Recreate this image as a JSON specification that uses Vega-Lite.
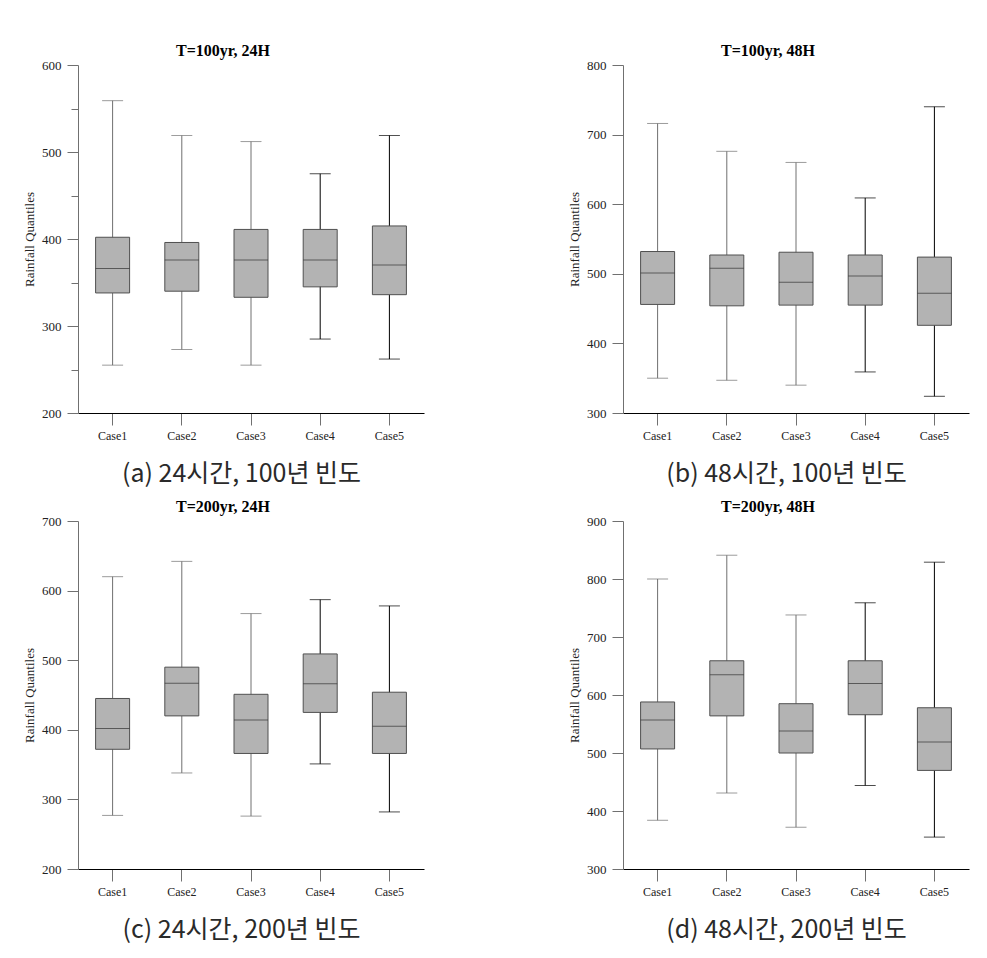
{
  "$schema": "https://vega.github.io/schema/vega-lite/v6.json",
  "background": "white",
  "padding": {"left": 23, "top": 43, "right": 5, "bottom": 5},
  "datasets": {
    "box": [
      {"panel": "a", "case": "Case1", "min": 255, "q1": 338, "median": 366, "q3": 402, "max": 559},
      {"panel": "a", "case": "Case2", "min": 273, "q1": 340, "median": 376, "q3": 396, "max": 519},
      {"panel": "a", "case": "Case3", "min": 255, "q1": 333, "median": 376, "q3": 411, "max": 512},
      {"panel": "a", "case": "Case4", "min": 285, "q1": 345, "median": 376, "q3": 411, "max": 475},
      {"panel": "a", "case": "Case5", "min": 262, "q1": 336, "median": 370, "q3": 415, "max": 519},
      {"panel": "b", "case": "Case1", "min": 350, "q1": 456, "median": 501, "q3": 532, "max": 716},
      {"panel": "b", "case": "Case2", "min": 347, "q1": 454, "median": 508, "q3": 527, "max": 676},
      {"panel": "b", "case": "Case3", "min": 340, "q1": 455, "median": 488, "q3": 531, "max": 660},
      {"panel": "b", "case": "Case4", "min": 359, "q1": 455, "median": 497, "q3": 527, "max": 609},
      {"panel": "b", "case": "Case5", "min": 324, "q1": 426, "median": 472, "q3": 524, "max": 740},
      {"panel": "c", "case": "Case1", "min": 277, "q1": 372, "median": 402, "q3": 445, "max": 620},
      {"panel": "c", "case": "Case2", "min": 338, "q1": 420, "median": 467, "q3": 490, "max": 642},
      {"panel": "c", "case": "Case3", "min": 276, "q1": 366, "median": 414, "q3": 451, "max": 567},
      {"panel": "c", "case": "Case4", "min": 351, "q1": 425, "median": 466, "q3": 509, "max": 587},
      {"panel": "c", "case": "Case5", "min": 282, "q1": 366, "median": 405, "q3": 454, "max": 578},
      {"panel": "d", "case": "Case1", "min": 384, "q1": 507, "median": 557, "q3": 588, "max": 800},
      {"panel": "d", "case": "Case2", "min": 431, "q1": 564, "median": 635, "q3": 659, "max": 841},
      {"panel": "d", "case": "Case3", "min": 372, "q1": 500, "median": 538, "q3": 585, "max": 738},
      {"panel": "d", "case": "Case4", "min": 444, "q1": 566, "median": 620, "q3": 659, "max": 759},
      {"panel": "d", "case": "Case5", "min": 355, "q1": 470, "median": 519, "q3": 578, "max": 829}
    ]
  },
  "data": {"name": "box"},
  "columns": 2,
  "bounds": "flush",
  "spacing": {"row": 108, "column": 199},
  "concat": [
    {
      "width": 346, "height": 348,
      "title": {"text": "T=100yr, 24H"},
      "transform": [{"filter": "datum.panel === 'a'"}],
      "encoding": {"x": {"field": "case", "type": "nominal", "axis": {"title": "(a) 24시간, 100년 빈도"}}},
      "layer": [
        {"mark": {"type": "rule", "strokeWidth": 1},
         "encoding": {"y": {"field": "min", "type": "quantitative", "title": "Rainfall Quantiles", "scale": {"domain": [200, 600], "nice": false}, "axis": {"title": "Rainfall Quantiles", "values": [200, 250, 300, 350, 400, 450, 500, 550, 600]}},
                      "y2": {"field": "max"},
                      "color": {"field": "case", "type": "nominal", "scale": {"domain": ["Case1", "Case2", "Case3", "Case4", "Case5"], "range": ["#707070", "#707070", "#707070", "#000000", "#000000"]}, "legend": null}}},
        {"mark": {"type": "tick", "size": 21, "thickness": 1},
         "encoding": {"y": {"field": "min", "type": "quantitative", "title": "Rainfall Quantiles", "scale": {"domain": [200, 600], "nice": false}},
                      "color": {"field": "case", "type": "nominal", "scale": {"domain": ["Case1", "Case2", "Case3", "Case4", "Case5"], "range": ["#707070", "#707070", "#707070", "#000000", "#000000"]}, "legend": null}}},
        {"mark": {"type": "tick", "size": 21, "thickness": 1},
         "encoding": {"y": {"field": "max", "type": "quantitative", "title": "Rainfall Quantiles", "scale": {"domain": [200, 600], "nice": false}},
                      "color": {"field": "case", "type": "nominal", "scale": {"domain": ["Case1", "Case2", "Case3", "Case4", "Case5"], "range": ["#707070", "#707070", "#707070", "#000000", "#000000"]}, "legend": null}}},
        {"mark": {"type": "bar", "size": 34, "fill": "#b3b3b3", "stroke": "#505050", "strokeWidth": 1},
         "encoding": {"y": {"field": "q1", "type": "quantitative", "title": "Rainfall Quantiles", "scale": {"domain": [200, 600], "nice": false}}, "y2": {"field": "q3"}}},
        {"mark": {"type": "tick", "size": 34, "thickness": 1, "color": "#333333"},
         "encoding": {"y": {"field": "median", "type": "quantitative", "title": "Rainfall Quantiles", "scale": {"domain": [200, 600], "nice": false}}}}
      ]
    },
    {
      "width": 346, "height": 348,
      "title": {"text": "T=100yr, 48H"},
      "transform": [{"filter": "datum.panel === 'b'"}],
      "encoding": {"x": {"field": "case", "type": "nominal", "axis": {"title": "(b) 48시간, 100년 빈도"}}},
      "layer": [
        {"mark": {"type": "rule", "strokeWidth": 1},
         "encoding": {"y": {"field": "min", "type": "quantitative", "title": "Rainfall Quantiles", "scale": {"domain": [300, 800], "nice": false}, "axis": {"title": "Rainfall Quantiles", "values": [300, 350, 400, 450, 500, 550, 600, 650, 700, 750, 800]}},
                      "y2": {"field": "max"},
                      "color": {"field": "case", "type": "nominal", "scale": {"domain": ["Case1", "Case2", "Case3", "Case4", "Case5"], "range": ["#707070", "#707070", "#707070", "#000000", "#000000"]}, "legend": null}}},
        {"mark": {"type": "tick", "size": 21, "thickness": 1},
         "encoding": {"y": {"field": "min", "type": "quantitative", "title": "Rainfall Quantiles", "scale": {"domain": [300, 800], "nice": false}},
                      "color": {"field": "case", "type": "nominal", "scale": {"domain": ["Case1", "Case2", "Case3", "Case4", "Case5"], "range": ["#707070", "#707070", "#707070", "#000000", "#000000"]}, "legend": null}}},
        {"mark": {"type": "tick", "size": 21, "thickness": 1},
         "encoding": {"y": {"field": "max", "type": "quantitative", "title": "Rainfall Quantiles", "scale": {"domain": [300, 800], "nice": false}},
                      "color": {"field": "case", "type": "nominal", "scale": {"domain": ["Case1", "Case2", "Case3", "Case4", "Case5"], "range": ["#707070", "#707070", "#707070", "#000000", "#000000"]}, "legend": null}}},
        {"mark": {"type": "bar", "size": 34, "fill": "#b3b3b3", "stroke": "#505050", "strokeWidth": 1},
         "encoding": {"y": {"field": "q1", "type": "quantitative", "title": "Rainfall Quantiles", "scale": {"domain": [300, 800], "nice": false}}, "y2": {"field": "q3"}}},
        {"mark": {"type": "tick", "size": 34, "thickness": 1, "color": "#333333"},
         "encoding": {"y": {"field": "median", "type": "quantitative", "title": "Rainfall Quantiles", "scale": {"domain": [300, 800], "nice": false}}}}
      ]
    },
    {
      "width": 346, "height": 348,
      "title": {"text": "T=200yr, 24H"},
      "transform": [{"filter": "datum.panel === 'c'"}],
      "encoding": {"x": {"field": "case", "type": "nominal", "axis": {"title": "(c) 24시간, 200년 빈도"}}},
      "layer": [
        {"mark": {"type": "rule", "strokeWidth": 1},
         "encoding": {"y": {"field": "min", "type": "quantitative", "title": "Rainfall Quantiles", "scale": {"domain": [200, 700], "nice": false}, "axis": {"title": "Rainfall Quantiles", "values": [200, 250, 300, 350, 400, 450, 500, 550, 600, 650, 700]}},
                      "y2": {"field": "max"},
                      "color": {"field": "case", "type": "nominal", "scale": {"domain": ["Case1", "Case2", "Case3", "Case4", "Case5"], "range": ["#707070", "#707070", "#707070", "#000000", "#000000"]}, "legend": null}}},
        {"mark": {"type": "tick", "size": 21, "thickness": 1},
         "encoding": {"y": {"field": "min", "type": "quantitative", "title": "Rainfall Quantiles", "scale": {"domain": [200, 700], "nice": false}},
                      "color": {"field": "case", "type": "nominal", "scale": {"domain": ["Case1", "Case2", "Case3", "Case4", "Case5"], "range": ["#707070", "#707070", "#707070", "#000000", "#000000"]}, "legend": null}}},
        {"mark": {"type": "tick", "size": 21, "thickness": 1},
         "encoding": {"y": {"field": "max", "type": "quantitative", "title": "Rainfall Quantiles", "scale": {"domain": [200, 700], "nice": false}},
                      "color": {"field": "case", "type": "nominal", "scale": {"domain": ["Case1", "Case2", "Case3", "Case4", "Case5"], "range": ["#707070", "#707070", "#707070", "#000000", "#000000"]}, "legend": null}}},
        {"mark": {"type": "bar", "size": 34, "fill": "#b3b3b3", "stroke": "#505050", "strokeWidth": 1},
         "encoding": {"y": {"field": "q1", "type": "quantitative", "title": "Rainfall Quantiles", "scale": {"domain": [200, 700], "nice": false}}, "y2": {"field": "q3"}}},
        {"mark": {"type": "tick", "size": 34, "thickness": 1, "color": "#333333"},
         "encoding": {"y": {"field": "median", "type": "quantitative", "title": "Rainfall Quantiles", "scale": {"domain": [200, 700], "nice": false}}}}
      ]
    },
    {
      "width": 346, "height": 348,
      "title": {"text": "T=200yr, 48H"},
      "transform": [{"filter": "datum.panel === 'd'"}],
      "encoding": {"x": {"field": "case", "type": "nominal", "axis": {"title": "(d) 48시간, 200년 빈도"}}},
      "layer": [
        {"mark": {"type": "rule", "strokeWidth": 1},
         "encoding": {"y": {"field": "min", "type": "quantitative", "title": "Rainfall Quantiles", "scale": {"domain": [300, 900], "nice": false}, "axis": {"title": "Rainfall Quantiles", "values": [300, 350, 400, 450, 500, 550, 600, 650, 700, 750, 800, 850, 900]}},
                      "y2": {"field": "max"},
                      "color": {"field": "case", "type": "nominal", "scale": {"domain": ["Case1", "Case2", "Case3", "Case4", "Case5"], "range": ["#707070", "#707070", "#707070", "#000000", "#000000"]}, "legend": null}}},
        {"mark": {"type": "tick", "size": 21, "thickness": 1},
         "encoding": {"y": {"field": "min", "type": "quantitative", "title": "Rainfall Quantiles", "scale": {"domain": [300, 900], "nice": false}},
                      "color": {"field": "case", "type": "nominal", "scale": {"domain": ["Case1", "Case2", "Case3", "Case4", "Case5"], "range": ["#707070", "#707070", "#707070", "#000000", "#000000"]}, "legend": null}}},
        {"mark": {"type": "tick", "size": 21, "thickness": 1},
         "encoding": {"y": {"field": "max", "type": "quantitative", "title": "Rainfall Quantiles", "scale": {"domain": [300, 900], "nice": false}},
                      "color": {"field": "case", "type": "nominal", "scale": {"domain": ["Case1", "Case2", "Case3", "Case4", "Case5"], "range": ["#707070", "#707070", "#707070", "#000000", "#000000"]}, "legend": null}}},
        {"mark": {"type": "bar", "size": 34, "fill": "#b3b3b3", "stroke": "#505050", "strokeWidth": 1},
         "encoding": {"y": {"field": "q1", "type": "quantitative", "title": "Rainfall Quantiles", "scale": {"domain": [300, 900], "nice": false}}, "y2": {"field": "q3"}}},
        {"mark": {"type": "tick", "size": 34, "thickness": 1, "color": "#333333"},
         "encoding": {"y": {"field": "median", "type": "quantitative", "title": "Rainfall Quantiles", "scale": {"domain": [300, 900], "nice": false}}}}
      ]
    }
  ],
  "config": {
    "view": {"stroke": null},
    "font": "Liberation Serif",
    "title": {"font": "Liberation Serif", "fontSize": 16, "fontWeight": "bold", "color": "#000000", "frame": "group", "anchor": "middle", "dx": -28, "dy": 4, "offset": 0, "baseline": "alphabetic"},
    "axis": {"grid": false, "labelFont": "Liberation Serif", "titleFont": "Liberation Serif", "labelColor": "#222222", "titleColor": "#222222", "tickColor": "#707070", "domainColor": "#707070"},
    "axisX": {"domainColor": "#000000", "tickSize": 12, "labelAngle": 0, "labelFontSize": 12, "labelPadding": 5,
              "titleFont": "Noto Sans CJK KR", "titleFontSize": 25, "titleFontWeight": "normal", "titleColor": "#2a2a2a",
              "titleX": 163, "titleY": 60, "titleBaseline": "middle", "titleAlign": "center"},
    "axisY": {"labelFontSize": 13, "labelPadding": 6, "labelFlush": false, "labelOverlap": false,
              "labelExpr": "datum.value % 100 === 0 ? datum.label : ''",
              "tickSize": {"condition": {"test": "datum.value % 100 !== 0", "value": 7}, "value": 11},
              "titleFontSize": 13, "titleFontWeight": "normal", "titlePadding": 5}
  }
}
